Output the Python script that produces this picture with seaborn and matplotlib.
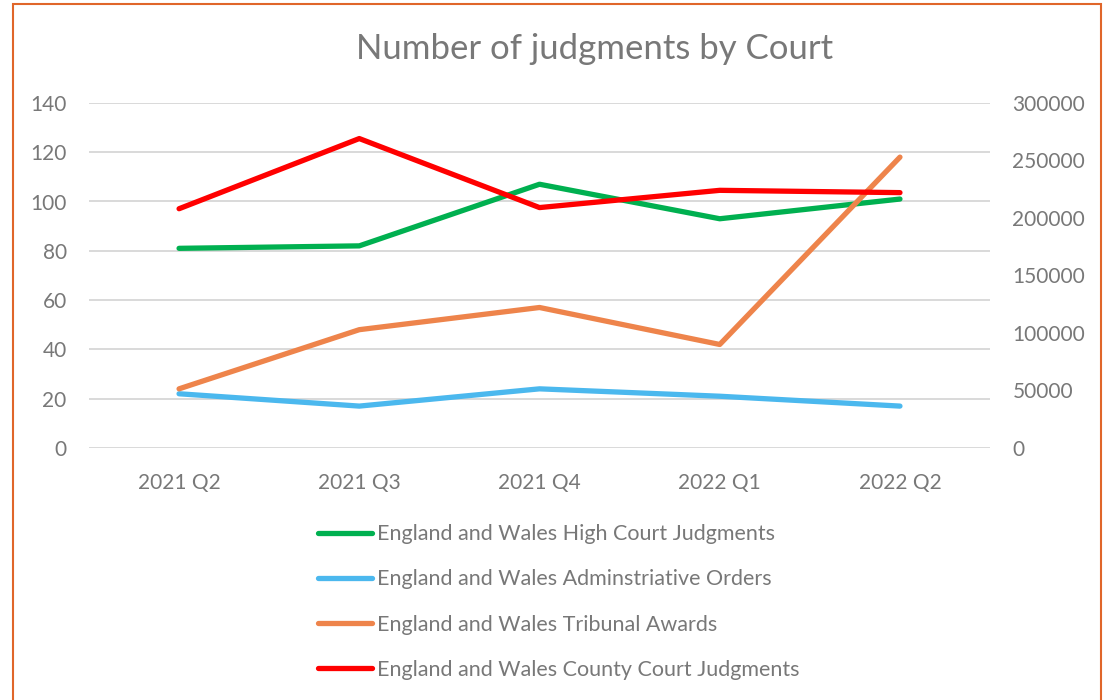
import pandas as pd
import seaborn as sns
import matplotlib.pyplot as plt
from matplotlib.patches import Rectangle

# Chart values.
quarters = ['2021 Q2', '2021 Q3', '2021 Q4', '2022 Q1', '2022 Q2']
high_court = [81, 82, 107, 93, 101]
admin_orders = [22, 17, 24, 21, 17]
tribunal_awards = [24, 48, 57, 42, 118]
county_court = [208000, 269000, 209000, 224000, 222000]  # secondary axis

left_ticks = [0, 20, 40, 60, 80, 100, 120, 140]
right_ticks = [0, 50000, 100000, 150000, 200000, 250000, 300000]

series_left = {
    'England and Wales High Court Judgments': (high_court, '#00B050'),
    'England and Wales Adminstriative Orders': (admin_orders, '#4BB8EE'),
    'England and Wales Tribunal Awards': (tribunal_awards, '#EE844B'),
}
cc_label = 'England and Wales County Court Judgments'
cc_color = '#FF0000'

sns.set_theme(style='white')
plt.rcParams['font.family'] = ['Lato', 'DejaVu Sans']
text_grey = '#787878'

fig = plt.figure(figsize=(11.05, 7), dpi=100)
ax = fig.add_axes([0.0805, 0.36, 0.8155, 0.493])
ax2 = ax.twinx()

x = list(range(len(quarters)))
lw = 3.8
for name, (vals, col) in series_left.items():
    df = pd.DataFrame({'x': x, 'y': vals})
    sns.lineplot(data=df, x='x', y='y', ax=ax, color=col, linewidth=lw,
                 label=name, solid_capstyle='round', legend=False)
df_cc = pd.DataFrame({'x': x, 'y': county_court})
sns.lineplot(data=df_cc, x='x', y='y', ax=ax2, color=cc_color, linewidth=lw,
             label=cc_label, solid_capstyle='round', legend=False)

ax.set_xlim(-0.5, len(quarters) - 0.5)
ax.set_ylim(0, 140)
ax2.set_ylim(0, 300000)
ax.set_yticks(left_ticks)
ax2.set_yticks(right_ticks)
ax.set_xticks(x)
ax.set_xticklabels(quarters)
ax.set_xlabel('')
ax.set_ylabel('')
ax2.set_ylabel('')

ax.grid(axis='y', color='#D9D9D9', linewidth=1.4)
ax.set_axisbelow(True)
for a in (ax, ax2):
    for s in a.spines.values():
        s.set_visible(False)
    a.tick_params(length=0, labelsize=15, colors=text_grey)
ax.tick_params(axis='y', pad=16)
ax.tick_params(axis='x', pad=18)
ax2.tick_params(axis='y', pad=16)
ax2.set_zorder(ax.get_zorder() + 1)
ax2.patch.set_visible(False)

fig.text(0.538, 0.93, 'Number of judgments by Court', ha='center', va='center',
         fontsize=25, color=text_grey)

h1, l1 = ax.get_legend_handles_labels()
h2, l2 = ax2.get_legend_handles_labels()
handles = [h1[0], h1[1], h1[2], h2[0]]
labels = [l1[0], l1[1], l1[2], l2[0]]
fig.legend(handles, labels, loc='upper left', bbox_to_anchor=(0.288, 0.251),
           frameon=False, fontsize=15.5, labelcolor=text_grey, handlelength=2.5,
           handletextpad=0.22, labelspacing=1.17, borderpad=0, borderaxespad=0)

# Orange frame round the chart area.
fig.patches.append(Rectangle((13 / 1105, -0.02), (1101 - 13) / 1105, 1.0 - 4 / 700 + 0.02,
                             transform=fig.transFigure, fill=False,
                             edgecolor='#E0662A', linewidth=1.5, clip_on=False))

fig.savefig('out.png', dpi=100, facecolor='white')
